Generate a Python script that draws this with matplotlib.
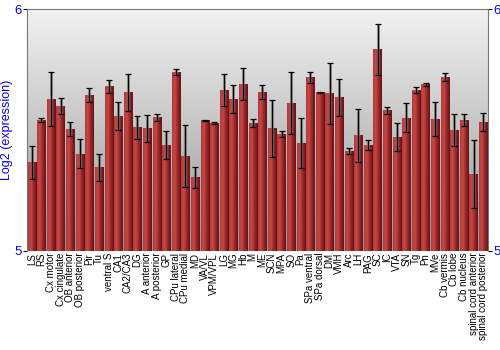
import numpy as np
import matplotlib
matplotlib.use("Agg")
import matplotlib.pyplot as plt
from matplotlib.colors import LinearSegmentedColormap

plt.rcParams["font.family"] = ["Liberation Sans", "DejaVu Sans"]

regions = [
    "LS", "RS", "Cx motor", "Cx cingulate", "OB anterior", "OB posterior",
    "Pir", "Tu", "ventral S", "CA1", "CA2/CA3", "DG", "A anterior",
    "A posterior", "GP", "CPu lateral", "CPu medial", "MD", "VA/VL",
    "VPM/VPL", "LG", "MG", "Hb", "M", "ME", "SCN", "MPA", "SO", "Pa",
    "SPa ventral", "SPa dorsal", "DM", "VMH", "Arc", "LH", "PAG", "SC", "IC",
    "VTA", "SN", "Tg", "Pn", "MVe", "Cb vermis", "Cb lobe", "Cb nucleus",
    "spinal cord anterior", "spinal cord posterior",
]
expression = [
    5.365, 5.541, 5.628, 5.599, 5.504, 5.401, 5.646, 5.344, 5.680, 5.558,
    5.657, 5.511, 5.507, 5.553, 5.438, 5.740, 5.392, 5.304, 5.540, 5.529,
    5.666, 5.628, 5.689, 5.529, 5.657, 5.508, 5.483, 5.612, 5.447, 5.718,
    5.656, 5.652, 5.635, 5.413, 5.479, 5.438, 5.833, 5.580, 5.471, 5.550,
    5.666, 5.688, 5.546, 5.718, 5.499, 5.541, 5.318, 5.533,
]
error = [
    0.070, 0.008, 0.111, 0.034, 0.030, 0.060, 0.028, 0.055, 0.026, 0.056,
    0.077, 0.049, 0.056, 0.015, 0.058, 0.014, 0.130, 0.043, 0.002, 0.006,
    0.066, 0.059, 0.066, 0.018, 0.030, 0.118, 0.011, 0.128, 0.104, 0.022,
    0.003, 0.127, 0.077, 0.012, 0.110, 0.019, 0.106, 0.015, 0.057, 0.060,
    0.014, 0.006, 0.069, 0.017, 0.066, 0.025, 0.142, 0.036,
]

BLUE = "#0000ff"
bar_cmap = LinearSegmentedColormap.from_list(
    "bar", [(0.0, "#b03838"), (0.3, "#c84848"), (0.65, "#962828"), (1.0, "#661212")])
bg_cmap = LinearSegmentedColormap.from_list("bg", ["#969696", "#f2f2f2"])

fig = plt.figure(figsize=(5, 3.5), dpi=100)
ax = fig.add_axes([0.054, 0.2837, 0.922, 0.6897])

x = np.arange(len(regions))
ymin, ymax = 5, 6

# background gradient, dark at bottom, light at top
grad = np.linspace(0, 1, 256).reshape(-1, 1)
ax.imshow(grad, cmap=bg_cmap, aspect="auto", origin="lower",
          extent=(-0.5, len(regions) - 0.5, ymin, ymax), zorder=0)

bars = ax.bar(x, np.array(expression) - ymin, bottom=ymin, width=0.86,
              color="none", edgecolor="none", zorder=2)
hgrad = np.linspace(0, 1, 64).reshape(1, -1)
for b in bars:
    x0, y0 = b.get_x(), b.get_y()
    ax.imshow(hgrad, cmap=bar_cmap, aspect="auto",
              extent=(x0, x0 + b.get_width(), y0, y0 + b.get_height()), zorder=2)

ax.errorbar(x, expression, yerr=error, fmt="none", ecolor="#777777",
            elinewidth=2.2, capsize=0, alpha=0.6, zorder=3)
ax.errorbar(x, expression, yerr=error, fmt="none", ecolor="black",
            elinewidth=0.9, capsize=2.5, capthick=0.9, zorder=4)

ax.set_xlim(-0.5, len(regions) - 0.5)
ax.set_ylim(ymin, ymax)
ax.set_xticks(x)
ax.set_xticklabels(regions, rotation=90, fontsize=7)
ax.tick_params(axis="x", length=0, pad=1.5)
ax.set_yticks([5, 6])
ax.tick_params(axis="y", colors="black", labelcolor=BLUE, labelsize=9.5,
               length=3, width=0.8, right=True, labelright=True, pad=1)
ax.set_ylabel("Log2 (expression)", color=BLUE, fontsize=9, labelpad=1)
for s in ax.spines.values():
    s.set_color("#777777")
    s.set_linewidth(0.8)
ax.spines["bottom"].set_visible(False)

fig.savefig("out.png", dpi=100)
